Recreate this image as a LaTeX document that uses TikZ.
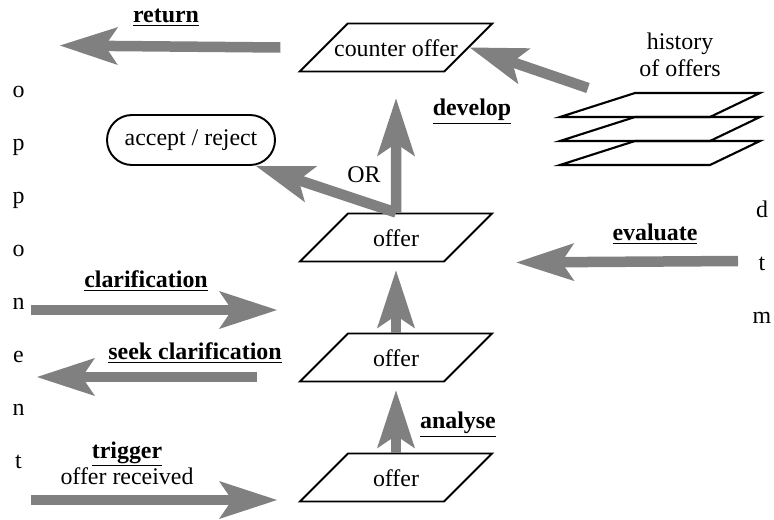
\documentclass[tikz,border=0pt]{standalone}
\usepackage{fontspec}
\setmainfont{Liberation Serif}
\usetikzlibrary{shapes.geometric}
\usetikzlibrary{arrows.meta}
\definecolor{shade}{rgb}{0.5, 0.5, 0.5}
\tikzset{
  offerbox/.style={draw, line width=1.1pt, trapezium, trapezium left angle=45,
    trapezium right angle=135, trapezium stretches body=true,
    text height=0.41cm, text depth=0.04cm, inner ysep=0.255cm, inner xsep=0pt,
    minimum width=3.84cm},
  fat/.style={draw=shade, line width=0.21cm,
    -{Stealth[length=1.16cm, width=0.76cm, inset=0.26cm, line width=0pt]}}
}
\newcommand{\act}[1]{\underline{\textbf{#1}}}

\begin{document}
\begin{tikzpicture}[font=\fontsize{13.6}{15}\selectfont]
\useasboundingbox (0, 0) rectangle (15.48, 10.38);
% offers
\node[offerbox, inner xsep=-0.27cm] (counter) at (7.92, 9.43) {counter offer};
\node[offerbox] (o1) at (7.92, 5.63) {offer};
\node[offerbox] (o2) at (7.92, 3.23) {offer};
\node[offerbox] (o3) at (7.92, 0.83) {offer};
\node[draw, line width=1.1pt, rounded corners=0.5cm, minimum width=3.36cm,
  minimum height=1cm] (acc) at (3.82, 7.58) {accept / reject};
% history
\node[align=center] (hist) at (13.6, 9.28) {history\\of offers};
\foreach \b in {8.04, 7.56, 7.08}
  \draw[line width=1.2pt] (11.2, \b) -- (12.7, \b+0.48) -- (15.2, \b+0.48) -- (14.2, \b) -- cycle;
% sides
\foreach \ch [count=\i] in {o,p,p,o,n,e,n,t}
  \node[anchor=base] (opp\i) at (0.37, 9.5-1.06*\i) {\ch};
\foreach \ch [count=\i] in {d,t,m}
  \node[anchor=base] (dtm\i) at (15.24, 7.1-1.06*\i) {\ch};
% labels
\node (ret) at (3.32, 10.02) {\act{return}};
\node (dev) at (9.44, 8.14) {\act{develop}};
\node (or) at (7.28, 6.88) {OR};
\node (eval) at (13.1, 5.7) {\act{evaluate}};
\node (clar) at (2.92, 4.76) {\act{clarification}};
\node (seek) at (3.9, 3.32) {\act{seek clarification}};
\node[align=center] (trig) at (2.54, 1.12) {\act{trigger}\\offer received};
\node (ana) at (9.16, 1.88) {\act{analyse}};
% arrows
\coordinate (retend) at (1.2, 9.47);
\coordinate (histstart) at (11.76, 8.62);
\coordinate (evstart) at (14.76, 5.16);
\coordinate (clfrom) at (0.62, 4.18);
\coordinate (clto) at (5.54, 4.18);
\coordinate (skfrom) at (5.14, 2.84);
\coordinate (skto) at (0.74, 2.84);
\coordinate (trfrom) at (0.62, 0.38);
\coordinate (trto) at (5.54, 0.38);
\draw[fat] ([xshift=-0.84cm]counter.west) -- (retend);
\draw[fat] (histstart) -- (counter.east);
\draw[fat] (o1.north) -- ([xshift=-0.4cm]acc.south east);
\draw[fat] (o1.north) -- ([yshift=-0.52cm]counter.south);
\draw[fat] (evstart) -- ([xshift=1.44cm]o1.bottom right corner);
\draw[fat] (clfrom) -- (clto);
\draw[fat] (skfrom) -- (skto);
\draw[fat] (trfrom) -- (trto);
\draw[fat] (o2.north) -- ([yshift=-0.16cm]o1.south);
\draw[fat] (o3.north) -- ([yshift=-0.16cm]o2.south);
\end{tikzpicture}
\end{document}
